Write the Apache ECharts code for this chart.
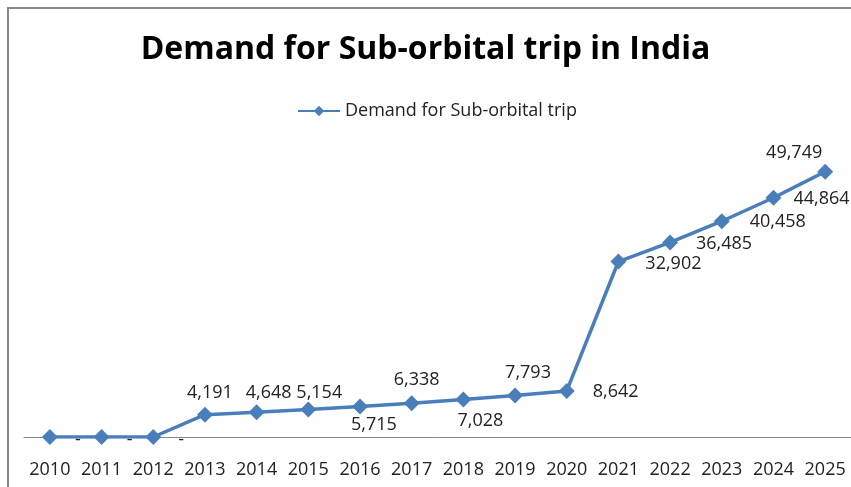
<!DOCTYPE html>
<html>
<head>
<meta charset="utf-8">
<script src="https://cdn.jsdelivr.net/npm/echarts@6/dist/echarts.min.js"></script>
<style>
  html, body { margin: 0; padding: 0; background: #fff; }
  #chart { width: 851px; height: 487px; }
</style>
</head>
<body>
<div id="chart"></div>
<script>
// data
const years = ['2010', '2011', '2012', '2013', '2014', '2015', '2016', '2017',
  '2018', '2019', '2020', '2021', '2022', '2023', '2024', '2025']
const demand = [0, 0, 0, 4191, 4648, 5154, 5715, 6338, 7028, 7793, 8642,
  32902, 36485, 40458, 44864, 49749]

// where each data label sits relative to its point (Excel placed them by hand)
const labelOffsets = [
  [28, 3], [28, 3], [28, 3], [5, -22], [12, -19], [11, -17], [14, 18], [5, -23],
  [17, 21], [13, -23], [49, 1], [55, 2], [54, 1], [56, 1], [48, 1], [-31, -19]
]

const font = 'Open Sans'
const chart = echarts.init(document.getElementById('chart'))

const seriesData = demand.map((v, i) => ({
  value: v,
  label: { offset: labelOffsets[i] }
}))

chart.setOption({
  animation: false,
  title: {
    text: 'Demand for Sub-orbital trip in India',
    left: 'center',
    top: 29,
    textStyle: { fontFamily: font, fontSize: 32, fontWeight: 'bold', color: '#000' }
  },
  legend: {
    left: 292,
    top: 97,
    itemWidth: 42,
    itemHeight: 13,
    itemGap: 5,
    textStyle: { fontFamily: font, fontSize: 18, color: '#222' },
    data: ['Demand for Sub-orbital trip']
  },
  graphic: [{
    type: 'rect',
    shape: { x: 8, y: 8, width: 900, height: 600 },
    style: { fill: 'none', stroke: '#888', lineWidth: 2 },
    silent: true
  }],
  grid: { left: 24, width: 831, top: 117, bottom: 50 },
  xAxis: {
    type: 'category',
    data: years,
    boundaryGap: true,
    axisLine: { lineStyle: { color: '#868686', width: 1 } },
    axisTick: { show: false },
    axisLabel: { color: '#222', fontFamily: font, fontSize: 18, margin: 24, interval: 0 }
  },
  yAxis: {
    type: 'value',
    min: 0,
    max: 60000,
    show: false,
    splitLine: { show: false }
  },
  series: [{
    name: 'Demand for Sub-orbital trip',
    type: 'line',
    data: seriesData,
    symbol: 'diamond',
    symbolSize: 16,
    lineStyle: { color: '#4a7ebb', width: 3.5 },
    itemStyle: { color: '#4a7ebb' },
    label: {
      show: true,
      position: 'inside',
      color: '#222',
      fontFamily: font,
      fontSize: 18,
      formatter: p => p.value === 0 ? '-' : p.value.toLocaleString('en-US')
    }
  }]
})
</script>
</body>
</html>
